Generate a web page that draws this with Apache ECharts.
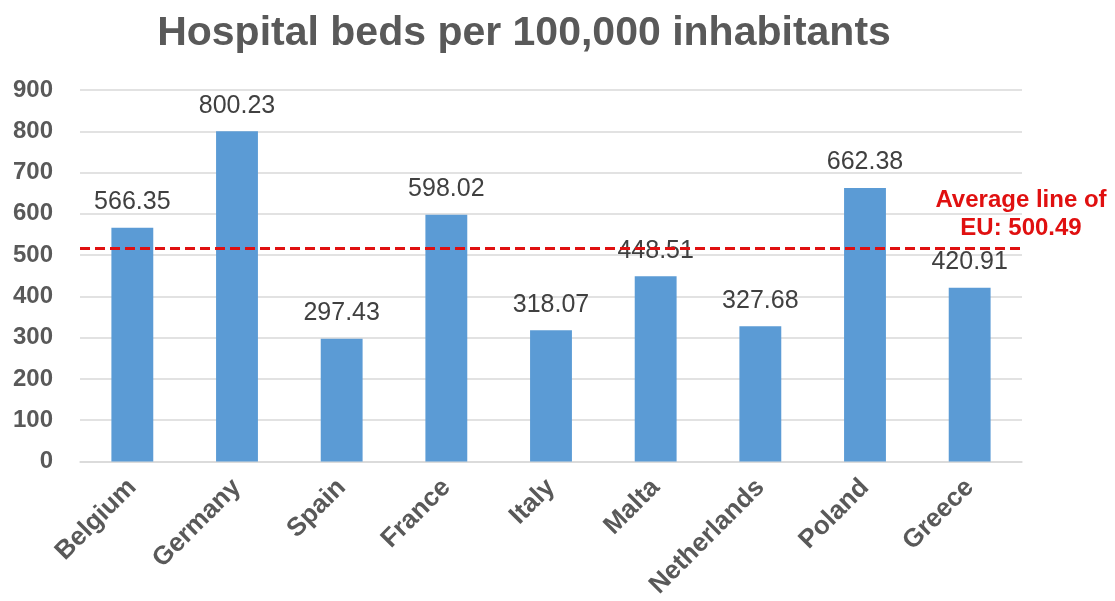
<!DOCTYPE html>
<html>
<head>
<meta charset="utf-8">
<script src="https://cdn.jsdelivr.net/npm/echarts@6/dist/echarts.min.js"></script>
<style>html,body{margin:0;padding:0;background:#fff;}#c{width:1115px;height:601px;}</style>
</head>
<body>
<div id="c"></div>
<script>
const categories = ['Belgium','Germany','Spain','France','Italy','Malta','Netherlands','Poland','Greece'];
const bedValues = [566.35, 800.23, 297.43, 598.02, 318.07, 448.51, 327.68, 662.38, 420.91];
const yTicks = [0, 100, 200, 300, 400, 500, 600, 700, 800, 900];
const euAverageLabel = 500.49;
const euAverageLineDrawn = 517; // where the dashed line is drawn in the picture

const chart = echarts.init(document.getElementById('c'));
chart.setOption({
  animation: false,
  title: {
    text: 'Hospital beds per 100,000 inhabitants',
    left: 519, top: 8, textAlign: 'center',
    textStyle: { fontFamily: 'Liberation Sans, Arial', fontWeight: 'bold', fontSize: 41, color: '#595959' }
  },
  grid: { left: 80, right: 93, top: 90, bottom: 139 },
  xAxis: {
    type: 'category', data: categories,
    axisLine: { lineStyle: { color: '#d9d9d9', width: 1.5 } },
    axisTick: { show: false },
    axisLabel: { rotate: 45, interval: 0, margin: 22, fontFamily: 'Liberation Sans, Arial', fontWeight: 'bold', fontSize: 26, color: '#595959' }
  },
  yAxis: {
    type: 'value', min: yTicks[0], max: yTicks[yTicks.length - 1], interval: 100,
    axisLine: { show: false }, axisTick: { show: false },
    splitLine: { lineStyle: { color: '#d9d9d9', width: 1.5 } },
    axisLabel: { margin: 27, fontFamily: 'Liberation Sans, Arial', fontWeight: 'bold', fontSize: 24, color: '#595959' }
  },
  series: [{
    type: 'bar', data: bedValues, barWidth: '40%',
    itemStyle: { color: '#5b9bd5' },
    label: {
      show: true, position: 'top', distance: 13,
      formatter: p => p.value.toFixed(2),
      fontFamily: 'Liberation Sans, Arial', fontSize: 25, color: '#404040'
    },
    markLine: {
      symbol: 'none', silent: true,
      lineStyle: { color: '#e01010', type: [10, 5], width: 3 },
      label: { show: false },
      data: [{ yAxis: euAverageLineDrawn }]
    }
  }],
  graphic: [{
    type: 'text', x: 1021, y: 186, z: 100,
    style: {
      text: 'Average line of\nEU: ' + euAverageLabel.toFixed(2),
      fill: '#e01010', font: 'bold 24px "Liberation Sans", Arial', align: 'center', verticalAlign: 'top', lineHeight: 28
    }
  }]
});
</script>
</body>
</html>
